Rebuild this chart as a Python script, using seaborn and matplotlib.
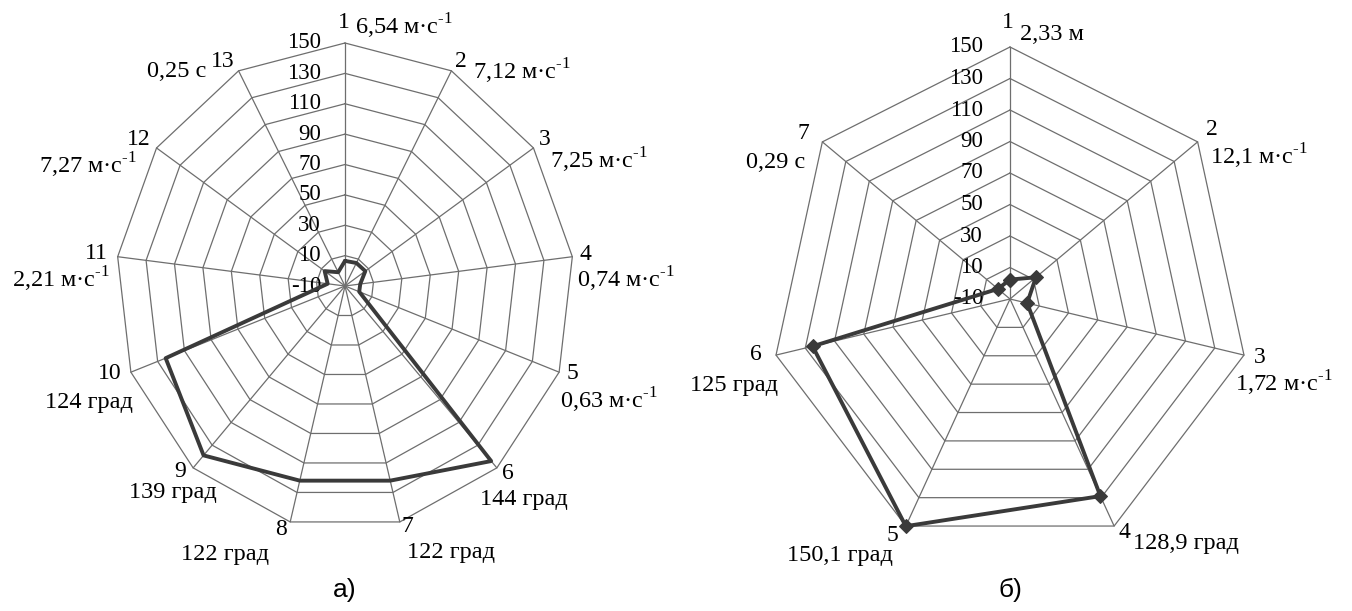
import numpy as np
import matplotlib
matplotlib.use("Agg")
import matplotlib.pyplot as plt
import seaborn as sns

# ---- data ----
ring_values = [-10, 10, 30, 50, 70, 90, 110, 130, 150]

SUP = r"$^{\text{-1}}$"
left_values = [6.54, 7.12, 7.25, 0.74, 0.63, 144, 122, 122, 139, 124, 2.21, 7.27, 0.25]
left_labels = ["6,54 м·с" + SUP, "7,12 м·с" + SUP, "7,25 м·с" + SUP, "0,74 м·с" + SUP,
               "0,63 м·с" + SUP, "144 град", "122 град", "122 град", "139 град",
               "124 град", "2,21 м·с" + SUP, "7,27 м·с" + SUP, "0,25 с"]

right_values = [2.33, 12.1, 1.72, 128.9, 150.1, 125, 0.29]
right_labels = ["2,33 м", "12,1 м·с" + SUP, "1,72 м·с" + SUP, "128,9 град",
                "150,1 град", "125 град", "0,29 с"]

# label placement (pixels: number label dx,dy ; value label dx,dy,align) - dy measured downward
left_num_off = [(-1, -21), (9, -9), (11, -8), (13, -2), (13, 1), (11, 6), (8, 5),
                (-9, 8), (-13, 4), (-21, 1), (-21, -3), (-18, -8), (-16, -9)]
left_val_off = [(10, -17, "left"), (22, 1, "left"), (17, 12, "left"), (5, 23, "left"),
                (1, 28, "left"), (-17, 32, "left"), (7, 31, "left"), (-65, 33, "center"),
                (24, 25, "right"), (2, 30, "right"), (-8, 23, "right"), (-19, 17, "right"),
                (-32, 1, "right")]
right_num_off = [(-2, -25), (14, -12), (16, 2), (10, 6), (-13, 9), (-20, -1), (-19, -8)]
right_val_off = [(10, -12, "left"), (12, 14, "left"), (-9, 28, "left"), (19, 17, "left"),
                 (-13, 29, "right"), (2, 30, "right"), (-17, 21, "right")]

sns.set_theme(style="white")
plt.rcParams['font.family'] = ['Liberation Serif', 'DejaVu Serif']
plt.rcParams['mathtext.fontset'] = 'custom'
plt.rcParams['mathtext.rm'] = 'Liberation Serif'

W, H = 1352, 611
fig = plt.figure(figsize=(W / 100, H / 100), dpi=100)

grid_col = "#6e6e6e"
line_col = "#3a3a3a"
vmin, vmax = ring_values[0], ring_values[-1]


def radar(ax, values, labels, num_off, val_off, cx, cy, rx, ry, x0, x1, tick_dx,
          caption, markers):
    n = len(values)
    ang = np.arange(n) * 2 * np.pi / n
    ax.set_xlim((x0 - cx) / rx, (x1 - cx) / rx)
    ax.set_ylim((cy - H) / ry, cy / ry)
    ax.axis("off")

    # polygon grid
    for rv in ring_values:
        r = (rv - vmin) / (vmax - vmin)
        a = np.append(ang, ang[0])
        ax.plot(r * np.sin(a), r * np.cos(a), color=grid_col, lw=0.9, zorder=1)
    for t in ang:
        ax.plot([0, np.sin(t)], [0, np.cos(t)], color=grid_col, lw=0.9, zorder=1)

    # ring tick labels along first spoke
    for rv in ring_values:
        r = (rv - vmin) / (vmax - vmin)
        ax.annotate(str(rv), (0, r), xytext=(tick_dx, 0), textcoords="offset pixels",
                    ha="right", va="center", fontsize=16.5, color="black", zorder=2)

    # data
    r = (np.array(values) - vmin) / (vmax - vmin)
    xs = np.append(r * np.sin(ang), r[0] * np.sin(ang[0]))
    ys = np.append(r * np.cos(ang), r[0] * np.cos(ang[0]))
    sns.lineplot(x=xs, y=ys, sort=False, estimator=None, ax=ax, color=line_col,
                 lw=2.8, zorder=3, marker="D" if markers else None,
                 markersize=7, markeredgecolor=line_col)

    # axis labels
    for k in range(n):
        vx, vy = np.sin(ang[k]), np.cos(ang[k])
        dx, dy = num_off[k]
        ax.annotate(str(k + 1), (vx, vy), xytext=(dx, -dy), textcoords="offset pixels",
                    ha="center", va="center", fontsize=17, color="black")
        dx, dy, al = val_off[k]
        ax.annotate(labels[k], (vx, vy), xytext=(dx, -dy), textcoords="offset pixels",
                    ha=al, va="center", fontsize=17.5, color="black")

    ax.text(0, (cy - 590) / ry, caption, ha="center", va="center", fontsize=19,
            family=["Liberation Sans", "DejaVu Sans"], color="black")


ax1 = fig.add_axes([0, 0, 0.5, 1])
radar(ax1, left_values, left_labels, left_num_off, left_val_off,
      cx=345, cy=286, rx=229, ry=243, x0=0, x1=676, tick_dx=-24, caption="а)",
      markers=False)

ax2 = fig.add_axes([0.5, 0, 0.5, 1])
radar(ax2, right_values, right_labels, right_num_off, right_val_off,
      cx=1010 - 676, cy=299, rx=240, ry=252, x0=0, x1=676, tick_dx=-27, caption="б)",
      markers=True)

fig.savefig("out.png", dpi=100, facecolor="white")
